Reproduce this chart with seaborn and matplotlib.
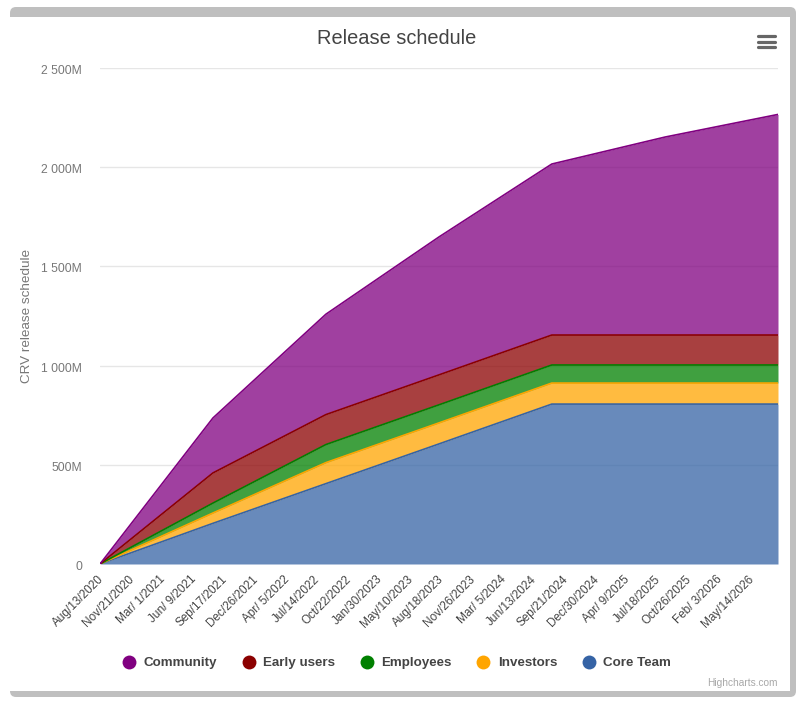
import pandas as pd
import numpy as np
import matplotlib
matplotlib.use("Agg")
import matplotlib.pyplot as plt
import seaborn as sns
from matplotlib.lines import Line2D
from matplotlib.patches import FancyBboxPatch, Rectangle
from matplotlib.transforms import ScaledTranslation

# days since launch, values in millions of CRV per group
days = [0, 365, 730, 1095, 1460, 1826, 2191]
community = [0, 277, 506, 695, 862, 998, 1112]
early_users = [0, 152, 151, 151, 151, 151, 151]
employees = [0, 50, 91, 91, 91, 91, 91]
investors = [0, 52, 106, 106, 106, 106, 106]
core_team = [0, 205, 405, 605, 806, 806, 806]

tick_days = list(range(0, 2200, 100))
tick_labels = ["Aug/13/2020", "Nov/21/2020", "Mar/ 1/2021", "Jun/ 9/2021", "Sep/17/2021",
               "Dec/26/2021", "Apr/ 5/2022", "Jul/14/2022", "Oct/22/2022", "Jan/30/2023",
               "May/10/2023", "Aug/18/2023", "Nov/26/2023", "Mar/ 5/2024", "Jun/13/2024",
               "Sep/21/2024", "Dec/30/2024", "Apr/ 9/2025", "Jul/18/2025", "Oct/26/2025",
               "Feb/ 3/2026", "May/14/2026"]
y_ticks = [0, 500, 1000, 1500, 2000, 2500]
y_labels = ["0", "500M", "1 000M", "1 500M", "2 000M", "2 500M"]

# bottom of the stack first
names = ["Core Team", "Investors", "Employees", "Early users", "Community"]
colors = ["#3563a5", "#ffa500", "#008000", "#8b0000", "#800080"]
W, H = 800, 702

sns.set_theme(style="whitegrid")
plt.rcParams['font.family'] = ['Liberation Sans', 'DejaVu Sans']

fig = plt.figure(figsize=(W / 100, H / 100), dpi=100, facecolor="white")


def fx(px):
    return px / W


def fy(py):
    return 1 - py / H


# card border, rounded on the outside, there is none on the left side
fig.add_artist(FancyBboxPatch((10, H - 697), 786, 690, boxstyle="round,pad=0,rounding_size=6",
                              transform=None, facecolor="#bfbfbf", edgecolor="none", zorder=-6))
fig.add_artist(Rectangle((fx(10), fy(691)), fx(780), fy(17) - fy(691), transform=fig.transFigure,
                         facecolor="white", edgecolor="none", zorder=-4))

ax = fig.add_axes([fx(100), fy(564), fx(678), fy(68) - fy(564)])
ax.patch.set_alpha(0)

df = pd.DataFrame({"days": days, "Core Team": core_team, "Investors": investors, "Employees": employees,
                   "Early users": early_users, "Community": community})
tops = df[names].cumsum(axis=1)
tops["days"] = df["days"]
long_tops = tops.melt(id_vars="days", var_name="group", value_name="total")

ax.stackplot(df["days"], [df[n] for n in names], colors=colors, alpha=0.75, linewidth=0, zorder=2)
sns.lineplot(data=long_tops, x="days", y="total", hue="group", hue_order=names, palette=colors,
             linewidth=1.2, legend=False, errorbar=None, ax=ax, zorder=3)

ax.set_xlim(0, 2191)
ax.set_ylim(0, 2500)
ax.set_xticks(tick_days)
ax.set_xticklabels(tick_labels, rotation=45, ha="right", rotation_mode="anchor", fontsize=8.5, color="#444444")
ax.set_yticks(y_ticks)
ax.set_yticklabels(y_labels, fontsize=8.7, color="#777777")
ax.tick_params(axis="x", length=0, pad=6)
ax.tick_params(axis="y", length=0, pad=13)
ax.grid(axis="x", visible=False)
ax.grid(axis="y", color="#e6e6e6", linewidth=1)
ax.set_axisbelow(True)
sns.despine(ax=ax, left=True, bottom=True, top=True, right=True)
ax.set_xlabel("")
ax.set_ylabel("")

# small nudges so the labels sit where they do in the chart
for label in ax.get_xticklabels():
    label.set_transform(label.get_transform() + ScaledTranslation(-2.5 / 100, -1 / 100, fig.dpi_scale_trans))
for label in ax.get_yticklabels():
    label.set_transform(label.get_transform() + ScaledTranslation(0, -1.5 / 100, fig.dpi_scale_trans))

fig.text(fx(27), fy(316), "CRV release schedule", rotation=90, ha="center", va="center",
         fontsize=9.7, color="#777777")
fig.text(fx(396.5), fy(38), "Release schedule", ha="center", va="center", fontsize=14.4, color="#444444")
fig.text(fx(778), fy(683), "Highcharts.com", ha="right", va="center", fontsize=7.3, color="#a8a8a8")

# menu button
for py in [36, 41.5, 47]:
    fig.add_artist(Line2D([fx(758), fx(775)], [fy(py), fy(py)], color="#666666", linewidth=2.3,
                          solid_capstyle="round"))

handles = [Line2D([], [], linestyle="none", marker="o", markersize=10, color=c, markeredgewidth=0)
           for c in colors[::-1]]
fig.legend(handles, names[::-1], ncol=5, loc="center", bbox_to_anchor=(fx(395.5), fy(663)), frameon=False,
           prop={"size": 9.6, "weight": "bold"}, labelcolor="#444444", handletextpad=0.4,
           columnspacing=1.65, handlelength=1.4)

fig.savefig("out.png", dpi=100)
